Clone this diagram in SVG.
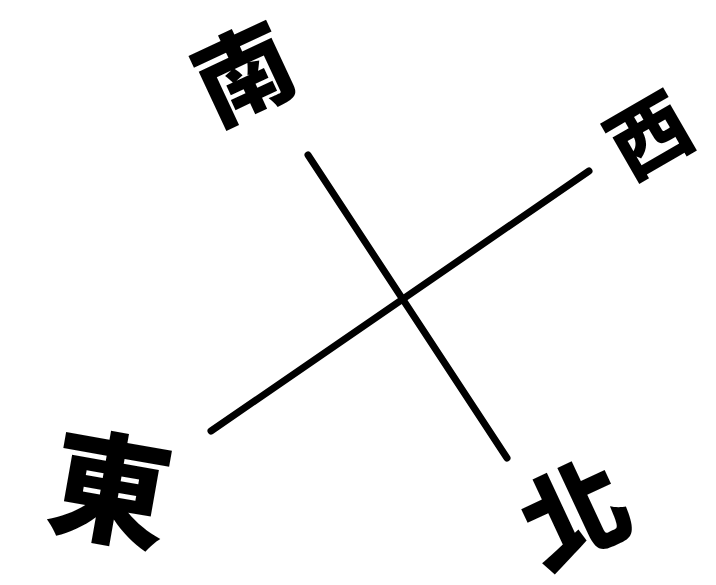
<svg xmlns="http://www.w3.org/2000/svg" width="716" height="585" viewBox="0 0 716 585">
<style>
.ln{stroke:#000;stroke-width:7;stroke-linecap:round;fill:none}
.lb{font-family:"Noto Sans CJK TC","Noto Sans CJK SC",sans-serif;font-weight:900;fill:#000;text-anchor:middle}
</style>
<rect width="716" height="585" fill="#fff"/>
<g id="connectors">
<line class="ln" x1="308" y1="155" x2="507" y2="458"/>
<line class="ln" x1="211" y1="431" x2="589" y2="171"/>
</g>
<g id="south" transform="translate(245,76) rotate(-25)"><text class="lb" font-size="96" x="0" y="33">南</text></g>
<g id="west" transform="translate(650,137) rotate(-30)"><text class="lb" font-size="80" x="0" y="28">西</text></g>
<g id="east" transform="translate(110,492) rotate(10)"><text class="lb" font-size="120" x="0" y="42">東</text></g>
<g id="north" transform="translate(576,516) rotate(-25)"><text class="lb" font-size="104" x="0" y="36">北</text></g>
</svg>
